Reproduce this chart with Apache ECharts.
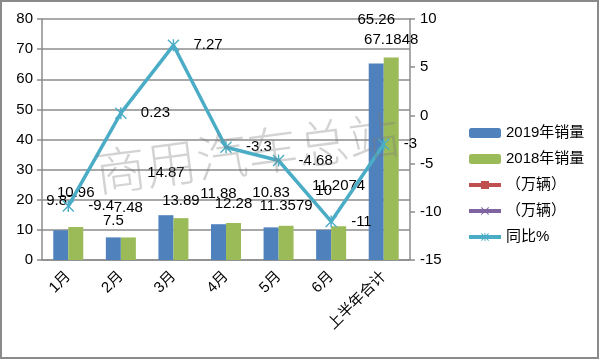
<!DOCTYPE html>
<html>
<head>
<meta charset="utf-8">
<script src="https://cdn.jsdelivr.net/npm/echarts@6/dist/echarts.min.js"></script>
<style>html,body{margin:0;padding:0;background:#fff}#c{width:600px;height:360px}</style>
</head>
<body>
<div id="c"></div>
<script>
const categories = ['1月', '2月', '3月', '4月', '5月', '6月', '上半年合计'];
const sales2019 = [9.87, 7.5, 14.87, 11.88, 10.83, 10, 65.26];
const sales2018 = [10.96, 7.48, 13.89, 12.28, 11.3579, 11.2074, 67.1848];
const yoy = [-9.4, 0.23, 7.27, -3.3, -4.68, -11, -3];
const leftTicks = { min: 0, max: 80, interval: 10 };
const rightTicks = { min: -15, max: 10, interval: 5 };

// label placement (style only): gap in px between bar top and its label
const labelGap2019 = [22, 9, 35, 23, 27, 32, 36];
const labelGap2018 = [27, 22, 10, 12, 12, 33, 10];

const FONT = 'Liberation Sans, "Noto Sans CJK SC", sans-serif';
const asterisk = 'path://M4.4 0L5.6 0L5.6 10L4.4 10Z M0 0.8L0.8 0L10 9.2L9.2 10Z M9.2 0L10 0.8L0.8 10L0 9.2Z';
const xmark = 'path://M0 0.8L0.8 0L10 9.2L9.2 10Z M9.2 0L10 0.8L0.8 10L0 9.2Z';
const gridColor = '#8c8c8c';

function barData(values, gaps) {
  return values.map((v, i) => ({ value: v, label: { distance: gaps[i] } }));
}

const chart = echarts.init(document.getElementById('c'), null, { renderer: 'canvas' });
chart.setOption({
  animation: false,
  backgroundColor: '#fff',
  textStyle: { fontFamily: FONT },
  grid: { left: 42, right: 190, top: 19, bottom: 100 },
  graphic: [
    { type: 'rect', shape: { x: 1, y: 1, width: 597, height: 357 },
      style: { fill: 'none', stroke: '#8a8a8a', lineWidth: 2 }, z: 100 },
    { type: 'text', x: 247, y: 153, rotation: 0.13, z: 50,
      style: { text: '商用汽车总站', fontSize: 51, fontWeight: 200,
        fontFamily: '"Noto Sans CJK SC"', fill: 'rgba(120,120,120,0.33)',
        align: 'center', verticalAlign: 'middle' } }
  ],
  legend: {
    orient: 'vertical', left: 462, top: 120,
    itemWidth: 32, itemHeight: 10, itemGap: 10, itemTextGap: 8,
    lineStyle: { width: 4 },
    textStyle: { fontSize: 15, color: '#000', lineHeight: 16, fontFamily: FONT },
    data: ['2019年销量', '2018年销量', '（万辆）', '（万辆） ', '同比%']
  },
  xAxis: {
    type: 'category', data: categories,
    axisLine: { lineStyle: { color: gridColor, width: 1.5 } },
    axisTick: { length: 5, lineStyle: { color: gridColor, width: 1.5 } },
    axisLabel: { rotate: 45, margin: 14, fontSize: 15, color: '#000', fontFamily: FONT }
  },
  yAxis: [
    { type: 'value', min: leftTicks.min, max: leftTicks.max, interval: leftTicks.interval,
      axisLine: { show: true, lineStyle: { color: gridColor, width: 1.5 } },
      axisTick: { show: true, length: 5, lineStyle: { color: gridColor, width: 1.5 } },
      splitLine: { lineStyle: { color: gridColor, width: 1.5 } },
      axisLabel: { fontSize: 15, color: '#000', margin: 9, fontFamily: FONT } },
    { type: 'value', min: rightTicks.min, max: rightTicks.max, interval: rightTicks.interval,
      axisLine: { show: true, lineStyle: { color: gridColor, width: 1.5 } },
      axisTick: { show: true, length: 5, lineStyle: { color: gridColor, width: 1.5 } },
      splitLine: { show: false },
      axisLabel: { fontSize: 15, color: '#000', margin: 10, fontFamily: FONT } }
  ],
  series: [
    { name: '2019年销量', type: 'bar', data: barData(sales2019, labelGap2019), barWidth: 15, barGap: '0%',
      itemStyle: { color: '#4F81BD' },
      label: { show: true, position: 'top', fontSize: 15, color: '#000', fontFamily: FONT } },
    { name: '2018年销量', type: 'bar', data: barData(sales2018, labelGap2018), barWidth: 15,
      itemStyle: { color: '#9BBB59' },
      label: { show: true, position: 'top', fontSize: 15, color: '#000', fontFamily: FONT } },
    { name: '（万辆）', type: 'line', yAxisIndex: 1, data: [], symbol: 'rect', symbolSize: 11,
      itemStyle: { color: '#C0504D' }, lineStyle: { color: '#C0504D', width: 4 } },
    { name: '（万辆） ', type: 'line', yAxisIndex: 1, data: [], symbol: xmark, symbolSize: 10,
      itemStyle: { color: '#8064A2' }, lineStyle: { color: '#8064A2', width: 4 } },
    { name: '同比%', type: 'line', yAxisIndex: 1, data: yoy, z: 5,
      symbol: asterisk, symbolSize: 12, showAllSymbol: true,
      itemStyle: { color: '#4BACC6' }, lineStyle: { color: '#4BACC6', width: 3.5 },
      label: { show: true, position: 'right', distance: 14, fontSize: 15, color: '#000', fontFamily: FONT } }
  ]
});
</script>
</body>
</html>
